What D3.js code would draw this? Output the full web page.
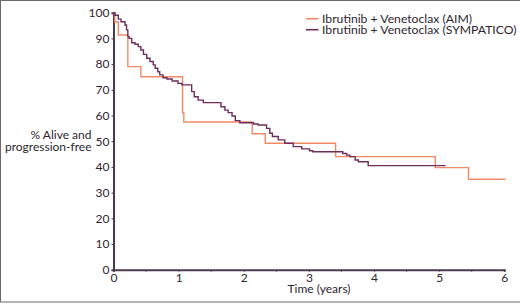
<!DOCTYPE html>
<html>
<head>
<meta charset="utf-8">
<script src="https://cdn.jsdelivr.net/npm/d3@7"></script>
<style>
  body { margin: 0; background: #fff; }
  #chart { width: 520px; height: 304px; }
  text { font-family: Lato, "Open Sans", sans-serif; fill: #2e2530; }
</style>
</head>
<body>
<div id="chart"></div>
<script>
// series names
const seriesNames = ['Ibrutinib + Venetoclax (AIM)', 'Ibrutinib + Venetoclax (SYMPATICO)'];
const seriesColors = ['#f28a66', '#6e2d5c'];

// AIM: [time (years), % alive and progression-free] after each step
const aimSteps = [
  [0, 100], [0.02, 96.4], [0.074, 91.3], [0.22, 79], [0.42, 75.1],
  [1.06, 61], [1.08, 57.5], [2.13, 52.9], [2.33, 49.2], [3.41, 44],
  [4.94, 39.7], [5.45, 35.2], [6.02, 35.2]
];

// SYMPATICO
const sympaticoSteps = [
  [0, 100], [0.023, 99], [0.074, 97.5], [0.115, 96.5], [0.177, 95.2],
  [0.2, 93.3], [0.22, 90.7], [0.24, 90], [0.28, 88.3], [0.33, 87.7],
  [0.38, 86.8], [0.42, 85.5], [0.46, 83.8], [0.51, 82.3], [0.56, 81],
  [0.61, 79.7], [0.64, 78.4], [0.68, 77], [0.71, 75.8], [0.76, 74.7],
  [0.82, 74.2], [0.9, 73.4], [0.99, 72.5], [1.05, 71.9], [1.2, 69.3],
  [1.24, 67.3], [1.3, 66], [1.38, 65], [1.65, 63.4], [1.71, 62.1],
  [1.76, 61.1], [1.82, 59.8], [1.87, 58], [1.94, 57.2], [2.15, 56.7],
  [2.22, 56.3], [2.35, 55], [2.4, 53.1], [2.44, 51.8], [2.53, 50.5],
  [2.63, 49.2], [2.76, 47.9], [2.89, 47], [3.01, 46.3], [3.06, 45.9],
  [3.52, 45.2], [3.58, 44.6], [3.63, 44], [3.71, 42.7], [3.76, 42],
  [3.91, 40.5], [5.1, 40.5]
];

const xTicks = [0, 1, 2, 3, 4, 5, 6];
const xMinorTicks = [0.5, 1.5, 2.5, 3.5, 4.5, 5.5];
const yTicks = [0, 10, 20, 30, 40, 50, 60, 70, 80, 90, 100];

const width = 520, height = 304;
const margin = { top: 12.7, right: 16, bottom: 34.3, left: 113.5 };

const svg = d3.select('#chart').append('svg')
  .attr('width', width)
  .attr('height', height);

// frame
svg.append('rect')
  .attr('x', 0.5).attr('y', 0.5)
  .attr('width', 521).attr('height', 301.5)
  .attr('fill', 'none')
  .attr('stroke', '#6a6a6a');

const x = d3.scaleLinear().domain([0, 6]).range([margin.left, 504.3]);
const y = d3.scaleLinear().domain([0, 100]).range([269.7, margin.top]);

const axisColor = '#4b3a4b';

// x axis
const gx = svg.append('g')
  .attr('transform', `translate(0,${y(0)})`)
  .call(d3.axisBottom(x).tickValues(xTicks).tickSize(2).tickPadding(2).tickFormat(d3.format('d')));
gx.append('g')
  .selectAll('line')
  .data(xMinorTicks)
  .join('line')
  .attr('x1', d => x(d)).attr('x2', d => x(d))
  .attr('y1', 0).attr('y2', 2)
  .attr('stroke', axisColor);

// y axis
const gy = svg.append('g')
  .attr('transform', `translate(${x(0)},0)`)
  .call(d3.axisLeft(y).tickValues(yTicks).tickSize(2).tickPadding(2));

[gx, gy].forEach(g => {
  g.select('.domain').attr('stroke', axisColor).attr('stroke-width', 2);
  g.selectAll('.tick line').attr('stroke', axisColor);
  g.selectAll('.tick text')
    .style('font-family', 'Lato, sans-serif')
    .style('font-size', '12px')
    .attr('fill', '#2e2530');
});

// axis titles
svg.append('text')
  .attr('x', 319).attr('y', 293)
  .attr('text-anchor', 'middle')
  .style('font-size', '12px')
  .text('Time (years)');

const yl = svg.append('text')
  .attr('text-anchor', 'end')
  .style('font-size', '12px');
yl.append('tspan').attr('x', 91.5).attr('y', 139.3).text('% Alive and');
yl.append('tspan').attr('x', 91.5).attr('y', 150.5).text('progression-free');

// curves
const line = d3.line()
  .x(d => x(d[0]))
  .y(d => y(d[1]))
  .curve(d3.curveStepAfter);

[aimSteps, sympaticoSteps].forEach((s, i) => {
  svg.append('path')
    .datum(s)
    .attr('d', line)
    .attr('fill', 'none')
    .attr('stroke', seriesColors[i])
    .attr('stroke-width', 1.4);
});

// legend
const legend = svg.append('g').attr('transform', 'translate(306,18.7)');
seriesNames.forEach((name, i) => {
  const g = legend.append('g').attr('transform', `translate(0,${i * 11})`);
  g.append('line')
    .attr('x1', 0).attr('x2', 12.5)
    .attr('stroke', seriesColors[i])
    .attr('stroke-width', 1.6);
  g.append('text')
    .attr('x', 16).attr('y', 4.2)
    .style('font-size', '12.2px')
    .text(name);
});
</script>
</body>
</html>
